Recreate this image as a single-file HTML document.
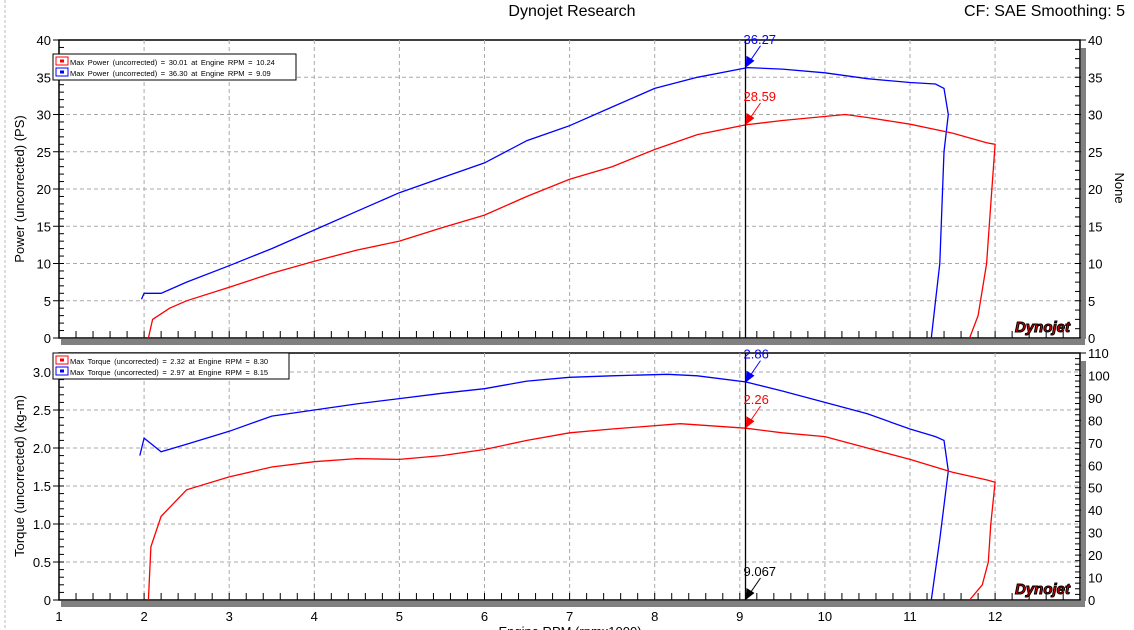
<!DOCTYPE html>
<html><head><meta charset="utf-8"><style>
body{margin:0;background:#fff;}
svg{display:block;font-family:"Liberation Sans","DejaVu Sans",sans-serif;}
</style></head><body>
<svg id="c" width="1134" height="630" viewBox="0 0 1134 630" xmlns="http://www.w3.org/2000/svg">
<line x1="5" y1="0" x2="5" y2="630" stroke="#bbb" stroke-dasharray="3,2"/>
<text x="572" y="16" font-size="16" text-anchor="middle">Dynojet Research</text>
<text x="1125" y="16" font-size="16" text-anchor="end">CF: SAE Smoothing: 5</text>
<g id="g"></g>
</svg>
<script>
const rpmTicks=[1,2,3,4,5,6,7,8,9,10,11,12];
const powerTicks=[0,5,10,15,20,25,30,35,40];
const torqueTicks=[0,0.5,1.0,1.5,2.0,2.5,3.0];
const torqueTickLabels=["0","0.5","1.0","1.5","2.0","2.5","3.0"];
const rightTicks=[0,10,20,30,40,50,60,70,80,90,100,110];
const powerBlueRpm=[1.97,2.0,2.2,2.5,3,3.5,4,4.5,5,5.5,6,6.5,7,7.5,8,8.5,9.09,9.5,10,10.5,11,11.3,11.4,11.45,11.4,11.35,11.25];
const powerBlueVal=[5.2,6,6,7.5,9.7,12,14.5,17,19.5,21.5,23.5,26.5,28.5,31,33.5,35,36.3,36.1,35.6,34.8,34.3,34.1,33.5,30,25,10,0];
const powerRedRpm=[2.05,2.1,2.3,2.5,3,3.5,4,4.5,5,5.5,6,6.5,7,7.5,8,8.5,9.067,9.5,10.24,10.5,11,11.5,11.9,12.0,11.95,11.9,11.8,11.7];
const powerRedVal=[0,2.5,4,5,6.8,8.7,10.3,11.8,13,14.8,16.5,19,21.3,23,25.3,27.3,28.6,29.2,30,29.6,28.7,27.5,26.2,26,18,10,3,0];
const torqueBlueRpm=[1.95,2.0,2.2,2.5,3,3.5,4,4.5,5,5.5,6,6.5,7,7.5,8.15,8.5,9.067,9.5,10,10.5,11,11.3,11.4,11.45,11.35,11.25];
const torqueBlueVal=[1.9,2.13,1.95,2.05,2.22,2.42,2.5,2.58,2.65,2.72,2.78,2.88,2.93,2.95,2.97,2.95,2.87,2.75,2.6,2.45,2.25,2.15,2.1,1.7,0.8,0];
const torqueRedRpm=[2.05,2.08,2.2,2.5,3,3.5,4,4.5,5,5.5,6,6.5,7,7.5,8.3,9.067,9.5,10,10.5,11,11.5,11.9,12.0,11.95,11.92,11.85,11.7];
const torqueRedVal=[0,0.7,1.1,1.45,1.62,1.75,1.82,1.86,1.85,1.9,1.98,2.1,2.2,2.25,2.32,2.26,2.2,2.15,2.0,1.85,1.68,1.58,1.55,1.0,0.5,0.2,0];
const cursorRpm=9.067;
const cursorLabels=["36.27","28.59","2.86","2.26"];
const cursorVals=[36.27,28.59,2.86,2.26];

const NS="http://www.w3.org/2000/svg";
const G=document.getElementById('g');
function el(t,a,txt){const e=document.createElementNS(NS,t);for(const k in a)e.setAttribute(k,a[k]);if(txt!==undefined)e.textContent=txt;G.appendChild(e);return e;}
const X0=59,X1=1080;
const x=v=>59+(v-1)*85.1;
const yP=v=>338-v*7.45;
const yT=v=>600-v*76;
const yR=v=>600-v*(247/110);

function panel(top,bot,yf,ticks,labels,minorStep,minorMax,rf,rticks,name){
  let r=el('rect',{x:X0,y:top,width:X1-X0,height:bot-top,fill:'#fff',stroke:'#000','stroke-width':1.5});
  
  rpmTicks.forEach(v=>{if(v>1){let l=el('line',{x1:x(v),y1:top,x2:x(v),y2:bot,stroke:'#aaa','stroke-dasharray':'4,3'});}});
  ticks.forEach((v,i)=>{
    if(v>0&&yf(v)>top+1){let l=el('line',{x1:X0,y1:yf(v),x2:X1,y2:yf(v),stroke:'#aaa','stroke-dasharray':'4,3'});}
    el('line',{x1:X0-6,y1:yf(v),x2:X0,y2:yf(v),stroke:'#000'});
    let t=el('text',{x:X0-8,y:yf(v)+5,'font-size':13,'text-anchor':'end'},labels[i]);
    
  });
  for(let v=0;v<=minorMax+1e-9;v+=minorStep){if(yf(v)>=top)el('line',{x1:X0,y1:yf(v),x2:X0+5,y2:yf(v),stroke:'#000'});}
  rticks.forEach((v,i)=>{
    el('line',{x1:X1,y1:rf(v),x2:X1+6,y2:rf(v),stroke:'#000'});
    let t=el('text',{x:X1+8,y:rf(v)+5,'font-size':13},String(v));
    
  });
  for(let v=rticks[0];v<=rticks[rticks.length-1];v+=(rticks[1]-rticks[0])/4){el('line',{x1:X1-5,y1:rf(v),x2:X1,y2:rf(v),stroke:'#000'});}
  for(let v=1;v<=12.9;v+=0.2){el('line',{x1:x(v),y1:bot-7,x2:x(v),y2:bot,stroke:'#000'});}
  let s=el('rect',{x:X0+2,y:bot+1,width:X1-X0+3,height:6,fill:'#808080'});
  el('rect',{x:X1+1,y:top+8,width:5,height:bot-top-8,fill:'#808080'});
  // logo
  let lg=el('text',{x:1070,y:bot-6,'font-size':15,'font-weight':'bold','font-style':'italic','text-anchor':'end',fill:'#d00',stroke:'#000','stroke-width':1},'Dynojet');
  
}
panel(40,338,yP,powerTicks,powerTicks.map(String),1,40,v=>yP(v*40/40),powerTicks,'power');
panel(353,600,yT,torqueTicks,torqueTickLabels,0.1,3.2,yR,rightTicks,'torque');

function series(rx,ry,yf,col,name){
  let p=el('polyline',{points:rx.map((r,i)=>x(r).toFixed(1)+','+yf(ry[i]).toFixed(1)).join(' '),fill:'none',stroke:col,'stroke-width':1.3});
  
}
series(powerBlueRpm,powerBlueVal,yP,'#00f','power-blue-line');
series(powerRedRpm,powerRedVal,yP,'#f00','power-red-line');
series(torqueBlueRpm,torqueBlueVal,yT,'#00f','torque-blue-line');
series(torqueRedRpm,torqueRedVal,yT,'#f00','torque-red-line');

// cursor
const cx=x(cursorRpm);
[[40,338],[353,600]].forEach(([a,b])=>{let l=el('line',{x1:cx,y1:a,x2:cx,y2:b,stroke:'#000','stroke-width':1.3});});
function marker(yy,lab,col,name){
  el('line',{x1:cx+15,y1:yy-22,x2:cx+4,y2:yy-6,stroke:col});
  el('polygon',{points:`${cx},${yy} ${cx+1},${yy-12} ${cx+9},${yy-7}`,fill:col});
  let t=el('text',{x:cx-2,y:yy-24,'font-size':13,fill:col},lab);
}
marker(yP(cursorVals[0]),cursorLabels[0],'#00f','cursor-power-blue-value');
marker(yP(cursorVals[1]),cursorLabels[1],'#f00','cursor-power-red-value');
marker(yT(cursorVals[2]),cursorLabels[2],'#00f','cursor-torque-blue-value');
marker(yT(cursorVals[3]),cursorLabels[3],'#f00','cursor-torque-red-value');
marker(600,String(cursorRpm),'#000','cursor-rpm-value');

// x labels
rpmTicks.forEach(v=>{let t=el('text',{x:x(v),y:621,'font-size':13,'text-anchor':'middle'},String(v));});
let xt=el('text',{x:570,y:636,'font-size':13,'text-anchor':'middle'},'Engine RPM (rpmx1000)');
let y1=el('text',{x:0,y:0,'font-size':13,'text-anchor':'middle',transform:'translate(24,189) rotate(-90)'},'Power (uncorrected) (PS)');
let y2=el('text',{x:0,y:0,'font-size':13,'text-anchor':'middle',transform:'translate(24,476) rotate(-90)'},'Torque (uncorrected) (kg-m)');
let y3=el('text',{x:0,y:0,'font-size':13,'text-anchor':'middle',transform:'translate(1115,188) rotate(90)'},'None');

function legend(top,w,rows,name){
  let b=el('rect',{x:53,y:top,width:w,height:26,fill:'#fff',stroke:'#000','stroke-width':1});
  rows.forEach((r,i)=>{
    let yy=top+3+i*11;
    el('rect',{x:56,y:yy,width:12,height:8,fill:'#fff',stroke:r[0]});
    el('rect',{x:60,y:yy+2.5,width:4,height:3,fill:r[0]});
    let t=el('text',{x:70,y:yy+8,'font-size':7.5,'word-spacing':'1.5'},r[1]);
  });
}
legend(54,243,[['#f00','Max Power (uncorrected) = 30.01 at Engine RPM = 10.24'],['#00f','Max Power (uncorrected) = 36.30 at Engine RPM = 9.09']],'power-legend');
legend(353,236,[['#f00','Max Torque (uncorrected) = 2.32 at Engine RPM = 8.30'],['#00f','Max Torque (uncorrected) = 2.97 at Engine RPM = 8.15']],'torque-legend');
</script>
</body></html>
